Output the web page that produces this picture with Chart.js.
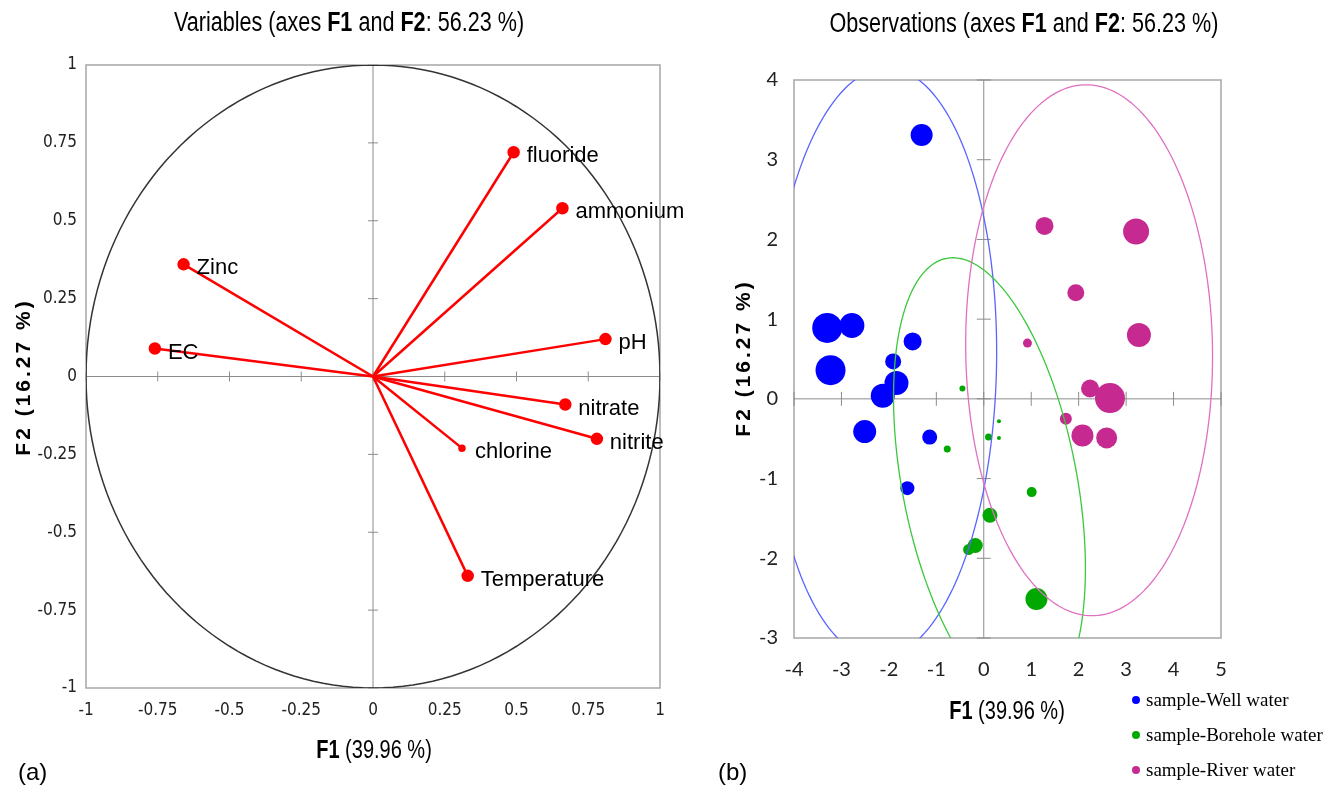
<!DOCTYPE html>
<html>
<head>
<meta charset="utf-8">
<script src="https://cdn.jsdelivr.net/npm/chart.js@4.4.1/dist/chart.umd.min.js"></script>
<style>
  body { margin: 0; background: #fff; }
  #wrap { position: relative; width: 1338px; height: 785px; }
  #pcaVars { position: absolute; left: 0; top: 0; }
  #pcaObs { position: absolute; left: 690px; top: 0; }
</style>
</head>
<body>
<div id="wrap">
  <canvas id="pcaVars" width="690" height="785"></canvas>
  <canvas id="pcaObs" width="648" height="785"></canvas>
</div>
<script>
// --- Variables (correlation circle) ---
const varNames = ['fluoride', 'ammonium', 'Zinc', 'EC', 'pH', 'nitrate', 'nitrite', 'chlorine', 'Temperature'];
const varF1 = [0.49, 0.66, -0.66, -0.76, 0.81, 0.67, 0.78, 0.31, 0.33];
const varF2 = [0.72, 0.54, 0.36, 0.09, 0.12, -0.09, -0.20, -0.23, -0.64];
const varTicks = [-1, -0.75, -0.5, -0.25, 0, 0.25, 0.5, 0.75, 1];

// --- Observations ---
const groupNames = ['sample-Well water', 'sample-Borehole water', 'sample-River water'];
const wellF1 = [-1.31, -3.30, -2.78, -3.23, -1.50, -1.91, -1.84, -2.13, -2.51, -1.14, -1.61];
const wellF2 = [3.31, 0.89, 0.92, 0.36, 0.72, 0.47, 0.20, 0.04, -0.41, -0.48, -1.12];
const wellSize = [11, 15, 12.5, 15, 9, 8, 12, 12, 11.5, 7.5, 7];
const boreF1 = [-0.45, 0.32, 0.10, 0.32, -0.77, 1.01, 0.13, -0.18, -0.32, 1.11];
const boreF2 = [0.13, -0.28, -0.48, -0.49, -0.63, -1.17, -1.46, -1.84, -1.89, -2.51];
const boreSize = [3, 2, 3.5, 2, 3.5, 5, 7.5, 7.5, 5.5, 11];
const riverF1 = [1.28, 3.21, 1.94, 0.92, 3.27, 2.24, 2.66, 1.73, 2.08, 2.59];
const riverF2 = [2.17, 2.10, 1.33, 0.70, 0.80, 0.13, 0.01, -0.25, -0.46, -0.49];
const riverSize = [9, 13, 8.5, 4.5, 12, 9, 15, 6, 11, 10.5];
const obsXTicks = [-4, -3, -2, -1, 0, 1, 2, 3, 4, 5];
const obsYTicks = [-3, -2, -1, 0, 1, 2, 3, 4];

// group ellipses: centre and two conjugate half-axes, in F1/F2 units
const ellCx = [-2.13, 0.12, 2.22];
const ellCy = [0.45, -1.05, 0.61];
const ellU = [[2.4, 0], [1.87, 0], [2.6, 0.05]];
const ellV = [[0.09, 3.7], [-0.77, 2.82], [-0.1, 3.33]];

const groupColors = ['#0000ff', '#00a800', '#c62a91'];
const ellColors = ['#5a64ff', '#3cc83c', '#e070c0'];

function drawRich(ctx, parts, cx, cy, size, family, sx) {
  ctx.save();
  ctx.translate(cx, cy);
  ctx.scale(sx, 1);
  ctx.textBaseline = 'middle';
  ctx.textAlign = 'left';
  ctx.fillStyle = '#000';
  let w = 0;
  parts.forEach(p => { ctx.font = (p[1] ? 'bold ' : '') + size + 'px ' + family; w += ctx.measureText(p[0]).width; });
  let x = -w / 2;
  parts.forEach(p => {
    ctx.font = (p[1] ? 'bold ' : '') + size + 'px ' + family;
    ctx.fillText(p[0], x, 0);
    x += ctx.measureText(p[0]).width;
  });
  ctx.restore();
}

function drawVertical(ctx, text, cx, cy) {
  ctx.save();
  ctx.translate(cx, cy);
  ctx.rotate(-Math.PI / 2);
  ctx.font = 'bold 21px "Liberation Sans", Arial, sans-serif';
  ctx.letterSpacing = '3px';
  ctx.textAlign = 'center';
  ctx.textBaseline = 'middle';
  ctx.fillStyle = '#000';
  ctx.fillText(text, 0, 0);
  ctx.restore();
}

// frame, zero axes and their little tick marks
const framePlugin = {
  id: 'frame',
  beforeDatasetsDraw(chart, args, opts) {
    const { ctx, chartArea: a, scales: { x, y } } = chart;
    ctx.save();
    ctx.strokeStyle = '#a6a6a6';
    ctx.lineWidth = 1.5;
    ctx.strokeRect(a.left, a.top, a.width, a.height);
    const x0 = x.getPixelForValue(0), y0 = y.getPixelForValue(0);
    ctx.strokeStyle = '#8c8c8c';
    ctx.lineWidth = 1;
    ctx.beginPath();
    ctx.moveTo(x0, a.top); ctx.lineTo(x0, a.bottom);
    ctx.moveTo(a.left, y0); ctx.lineTo(a.right, y0);
    x.ticks.forEach(t => {
      const p = x.getPixelForValue(t.value);
      ctx.moveTo(p, y0 - opts.tick); ctx.lineTo(p, y0 + opts.tick);
    });
    y.ticks.forEach(t => {
      const p = y.getPixelForValue(t.value);
      ctx.moveTo(x0 - opts.tick, p); ctx.lineTo(x0 + opts.tick, p);
    });
    ctx.stroke();
    ctx.restore();
  }
};

function strokeEllipse(chart, cx, cy, u, v, color, width) {
  const { ctx, chartArea: a, scales: { x, y } } = chart;
  ctx.save();
  ctx.beginPath();
  ctx.rect(a.left, a.top, a.width, a.height);
  ctx.clip();
  ctx.strokeStyle = color;
  ctx.lineWidth = width;
  ctx.beginPath();
  for (let k = 0; k <= 180; k++) {
    const t = k / 180 * 2 * Math.PI;
    const px = x.getPixelForValue(cx + u[0] * Math.cos(t) + v[0] * Math.sin(t));
    const py = y.getPixelForValue(cy + u[1] * Math.cos(t) + v[1] * Math.sin(t));
    if (k === 0) ctx.moveTo(px, py); else ctx.lineTo(px, py);
  }
  ctx.stroke();
  ctx.restore();
}

const circlePlugin = {
  id: 'circle',
  beforeDatasetsDraw(chart) {
    strokeEllipse(chart, 0, 0, [1, 0], [0, 1], '#333', 1.5);
  }
};

const ellipsePlugin = {
  id: 'ellipses',
  afterDatasetsDraw(chart) {
    ellCx.forEach((c, i) => strokeEllipse(chart, c, ellCy[i], ellU[i], ellV[i], ellColors[i], 1.3));
  }
};

const sansFamily = '"Liberation Sans", Arial, sans-serif';

const varsText = {
  id: 'varsText',
  afterDraw(chart) {
    const ctx = chart.ctx;
    drawRich(ctx, [['Variables (axes ', 0], ['F1', 1], [' and ', 0], ['F2', 1], [': 56.23 %)', 0]], 349, 24, 27, sansFamily, 0.8);
    drawRich(ctx, [['F1', 1], [' (39.96 %)', 0]], 374, 751, 25, sansFamily, 0.8);
    drawVertical(ctx, 'F2 (16.27 %)', 24, 377);
    ctx.save();
    ctx.font = '22px ' + sansFamily;
    ctx.fillStyle = '#000';
    ctx.textBaseline = 'middle';
    chart.data.datasets.forEach((ds, i) => {
      const pt = chart.getDatasetMeta(i).data[1];
      ctx.fillText(ds.label, pt.x + 13, pt.y + 4);
    });
    ctx.font = '24px ' + sansFamily;
    ctx.fillText('(a)', 18, 773);
    ctx.restore();
  }
};

const obsText = {
  id: 'obsText',
  afterDraw(chart) {
    const ctx = chart.ctx;
    drawRich(ctx, [['Observations (axes ', 0], ['F1', 1], [' and ', 0], ['F2', 1], [': 56.23 %)', 0]], 334, 25, 27, sansFamily, 0.8);
    drawRich(ctx, [['F1', 1], [' (39.96 %)', 0]], 317, 712, 25, sansFamily, 0.8);
    drawVertical(ctx, 'F2 (16.27 %)', 54, 358);
    ctx.save();
    ctx.textBaseline = 'middle';
    ctx.font = '19px "Liberation Serif", "Times New Roman", serif';
    chart.data.datasets.forEach((ds, i) => {
      const yy = 700 + i * 35;
      ctx.fillStyle = ds.backgroundColor;
      ctx.beginPath();
      ctx.arc(1136 - 690, yy, 4, 0, 2 * Math.PI);
      ctx.fill();
      ctx.fillStyle = '#000';
      ctx.fillText(ds.label, 1146 - 690, yy + 1);
    });
    ctx.font = '24px ' + sansFamily;
    ctx.fillText('(b)', 28, 773);
    ctx.restore();
  }
};

const tickFontVars = { family: '"Liberation Sans Narrow", "DejaVu Sans Condensed", "Liberation Sans", sans-serif', size: 17 };
const tickFontObs = { family: 'Lato, "Liberation Sans", sans-serif', size: 20 };

new Chart(document.getElementById('pcaVars'), {
  type: 'scatter',
  data: {
    datasets: varNames.map((n, i) => ({
      label: n,
      data: [{ x: 0, y: 0 }, { x: varF1[i], y: varF2[i] }],
      showLine: true,
      borderColor: '#ff0000',
      backgroundColor: '#ff0000',
      borderWidth: 2.5,
      pointRadius: [0, n === 'chlorine' ? 2.5 : 5],
      pointHoverRadius: 0
    }))
  },
  options: {
    responsive: false,
    animation: false,
    layout: { padding: { left: 16, right: 30, top: 65, bottom: 47 } },
    plugins: { legend: { display: false }, tooltip: { enabled: false }, frame: { tick: 5 } },
    scales: {
      x: {
        type: 'linear', min: -1, max: 1,
        grid: { display: false, drawTicks: false }, border: { display: false },
        afterBuildTicks: s => { s.ticks = varTicks.map(v => ({ value: v })); },
        afterFit: s => { s.height = 50; },
        ticks: { callback: v => String(v), padding: 12, color: '#222', font: tickFontVars, maxRotation: 0, autoSkip: false }
      },
      y: {
        type: 'linear', min: -1, max: 1,
        grid: { display: false, drawTicks: false }, border: { display: false },
        afterBuildTicks: s => { s.ticks = varTicks.map(v => ({ value: v })); },
        afterFit: s => { s.width = 70; },
        ticks: { callback: v => String(v), padding: 9, color: '#222', font: tickFontVars, autoSkip: false }
      }
    }
  },
  plugins: [framePlugin, circlePlugin, varsText]
});

function bubbles(f1, f2, size) {
  return f1.map((v, i) => ({ x: v, y: f2[i], r: size[i] }));
}

new Chart(document.getElementById('pcaObs'), {
  type: 'bubble',
  data: {
    datasets: [
      { label: groupNames[0], data: bubbles(wellF1, wellF2, wellSize) },
      { label: groupNames[1], data: bubbles(boreF1, boreF2, boreSize) },
      { label: groupNames[2], data: bubbles(riverF1, riverF2, riverSize) }
    ].map((ds, i) => Object.assign(ds, {
      backgroundColor: groupColors[i],
      borderColor: groupColors[i],
      borderWidth: 0,
      hoverRadius: 0
    }))
  },
  options: {
    responsive: false,
    animation: false,
    layout: { padding: { left: 44, right: 117, top: 80, bottom: 87 } },
    plugins: { legend: { display: false }, tooltip: { enabled: false }, frame: { tick: 7 } },
    scales: {
      x: {
        type: 'linear', min: -4, max: 5,
        grid: { display: false, drawTicks: false }, border: { display: false },
        afterBuildTicks: s => { s.ticks = obsXTicks.map(v => ({ value: v })); },
        afterFit: s => { s.height = 60; },
        ticks: { padding: 20, color: '#222', font: tickFontObs, maxRotation: 0, autoSkip: false }
      },
      y: {
        type: 'linear', min: -3, max: 4,
        grid: { display: false, drawTicks: false }, border: { display: false },
        afterBuildTicks: s => { s.ticks = obsYTicks.map(v => ({ value: v })); },
        afterFit: s => { s.width = 60; },
        ticks: { padding: 16, color: '#222', font: tickFontObs, autoSkip: false }
      }
    }
  },
  plugins: [framePlugin, ellipsePlugin, obsText]
});
</script>
</body>
</html>
